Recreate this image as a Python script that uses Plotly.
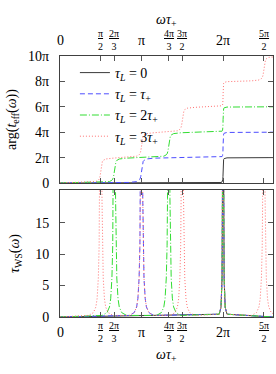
import plotly.graph_objects as go
from plotly.subplots import make_subplots

# ---------------- data (x in units of pi: omega*tau_+/pi) ----------------
x_max = 2.612
x_tick_vals = [0, 1/2, 2/3, 1, 4/3, 3/2, 2, 5/2]
x_tick_text = ["0", "<u>π</u><br>2", "<u>2π</u><br>3", "π", "<u>4π</u><br>3",
               "<u>3π</u><br>2", "2π", "<u>5π</u><br>2"]
x_tick_is_frac = [False, True, True, False, True, True, False, True]

phase_tick_vals = [0, 2, 4, 6, 8, 10]
phase_tick_text = ["0", "2π", "4π", "6π", "8π", "10π"]
tau_tick_vals = [0, 5, 10, 15]
tau_tick_text = ["0", "5", "10", "15"]

series_names = ["<i>τ<sub>L</sub></i> = 0",
                "<i>τ<sub>L</sub></i> = <i>τ</i><sub>+</sub>",
                "<i>τ<sub>L</sub></i> = 2<i>τ</i><sub>+</sub>",
                "<i>τ<sub>L</sub></i> = 3<i>τ</i><sub>+</sub>"]
# resonance positions (units of pi) read from the steps / peaks
series_res = [[2], [1, 2], [2/3, 4/3, 2], [1/2, 1, 3/2, 2, 5/2]]
narrow_res = 2  # the resonance at 2π is very narrow for every curve

# broad resonance profile
broad_off = [-0.15, -0.09, -0.06, -0.045, -0.03, -0.02, -0.015, -0.01, 0,
             0.01, 0.015, 0.02, 0.03, 0.045, 0.06, 0.09, 0.15]
broad_tau = [0.25, 0.7, 1.6, 2.9, 6.2, 11.4, 18.8, 28.6, 57,
             28.6, 18.8, 11.4, 6.2, 2.9, 1.6, 0.7, 0.25]
broad_step_off = [-0.15, -0.06, -0.03, -0.02, -0.01, 0,
                  0.01, 0.02, 0.03, 0.06, 0.15]
broad_step = [0.022, 0.055, 0.111, 0.148, 0.25, 0.5,
              0.75, 0.852, 0.889, 0.945, 0.978]
# narrow resonance profile (at 2π)
narrow_off = [-0.048, -0.0255, -0.0127, -0.0064, -0.0032, -0.0016, 0,
              0.0016, 0.0032, 0.0064, 0.0127, 0.0255, 0.048]
narrow_tau = [0.44, 1.56, 6.15, 23.5, 80, 200, 400,
              200, 80, 23.5, 6.15, 1.56, 0.44]
narrow_step = [0.01, 0.02, 0.04, 0.078, 0.148, 0.25, 0.5,
               0.75, 0.852, 0.922, 0.96, 0.98, 0.99]

colors = ["#3a3a3a", "#4d4dff", "#33dd33", "#ff7070"]
dashes = ["solid", "5px,3px", "7px,2px,1px,2px", "1px,2px"]


def build(res, phase):
    xs, ys = [0.0], [0.0]
    for k, p in enumerate(res):
        if p == narrow_res:
            offs = narrow_off
            vals = narrow_step if phase else narrow_tau
        else:
            offs = broad_step_off if phase else broad_off
            vals = broad_step if phase else broad_tau
        for o, v in zip(offs, vals):
            xs.append(p + o)
            ys.append(2 * k + 2 * v if phase else v)
    xs.append(x_max)
    ys.append(2 * len(res) if phase else 0.0)
    return xs, ys


fig = make_subplots(rows=2, cols=1, shared_xaxes=False, vertical_spacing=0.0)

for name, res, col, dash in zip(series_names, series_res, colors, dashes):
    xp, yp = build(res, True)
    fig.add_trace(go.Scatter(x=xp, y=yp, mode="lines", name=name,
                             line=dict(color=col, width=1, dash=dash)),
                  row=1, col=1)
    xt, yt = build(res, False)
    fig.add_trace(go.Scatter(x=xt, y=yt, mode="lines", name=name, showlegend=False,
                             line=dict(color=col, width=1, dash=dash)),
                  row=2, col=1)

FONT = "Liberation Serif, Times New Roman, serif"
H_TOP, H_BOT = 56, 57
PLOT_H = 374 - H_TOP - H_BOT


def py(pix):
    return (374 - H_BOT - pix) / PLOT_H


axis_common = dict(showline=True, linecolor="#404040", linewidth=1, mirror="allticks",
                   ticks="inside", ticklen=5, tickcolor="#555555", tickwidth=1,
                   showgrid=False, zeroline=False, automargin=False)

fig.update_xaxes(range=[0, x_max], tickvals=x_tick_vals, showticklabels=False, **axis_common)
fig.update_yaxes(tickfont=dict(family=FONT, size=14), **axis_common)

fig.update_layout(
    yaxis=dict(domain=[py(183), 1], range=[0, 10], tickvals=phase_tick_vals,
               ticktext=phase_tick_text, ticklabelstandoff=7,
               title=dict(text="arg(<i>t</i><sub>eff</sub>(<i>ω</i>))", standoff=8,
                          font=dict(size=14, family=FONT))),
    yaxis2=dict(domain=[0, py(190)], range=[0, 20.2], tickvals=tau_tick_vals,
                ticktext=tau_tick_text, ticklabelstandoff=7,
                title=dict(text="<i>τ</i><sub>WS</sub>(<i>ω</i>)", standoff=12,
                           font=dict(size=14, family=FONT))),
)

annotations = []
for v, t, fr in zip(x_tick_vals, x_tick_text, x_tick_is_frac):
    size = 10 if fr else 14
    for xref, ypix in (("x", 40.5), ("x2", 332)):
        annotations.append(dict(x=v, y=py(ypix), xref=xref, yref="paper", text=t,
                                showarrow=False, xanchor="center", yanchor="middle",
                                font=dict(size=size, family=FONT, color="black")))
for xref, ypix in (("x", 21), ("x2", 355)):
    annotations.append(dict(x=1.306, y=py(ypix), xref=xref, yref="paper",
                            text="<i>ωτ</i><sub>+</sub>", showarrow=False,
                            xanchor="center", yanchor="middle",
                            font=dict(size=14, family=FONT, color="black")))

fig.update_layout(
    width=276, height=374,
    margin=dict(l=60, r=3, t=H_TOP, b=H_BOT),
    paper_bgcolor="white", plot_bgcolor="white",
    font=dict(family=FONT, size=14, color="black"),
    annotations=annotations,
    legend=dict(x=0.07, y=py(57), xanchor="left", yanchor="top",
                bgcolor="rgba(0,0,0,0)", borderwidth=0,
                font=dict(size=14, family=FONT)),
    showlegend=True,
)

fig.write_html("out.html", config={"displayModeBar": False},
               post_script="document.body.style.margin='0';")
